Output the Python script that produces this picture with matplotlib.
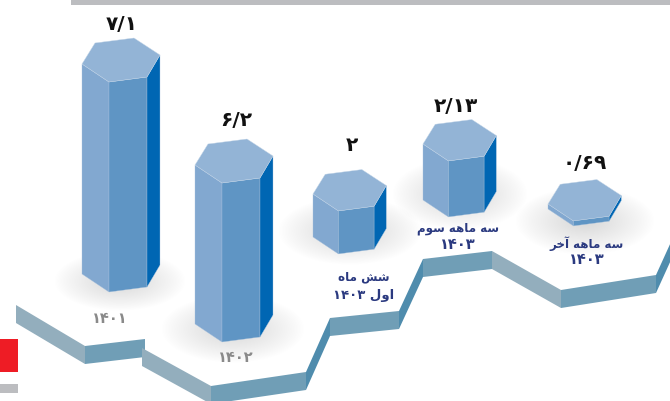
import matplotlib
matplotlib.use('Agg')
import matplotlib.pyplot as plt
from matplotlib.patches import Polygon, Rectangle
import numpy as np

# values shown over the bars, and how tall each prism is drawn (px)
value_labels = ['۷/۱', '۶/۲', '۲', '۲/۱۳', '۰/۶۹']
bar_heights = [210, 159, 43, 56, 5]
periods = ['۱۴۰۱', '۱۴۰۲', 'شش ماه\nاول ۱۴۰۳', 'سه ماهه سوم\n۱۴۰۳', 'سه ماهه آخر\n۱۴۰۳']

# settings
bar_left = [82, 195, 313, 423, 548]
bar_top = [65, 166, 195, 145, 205]
bar_scale = [1, 1, 0.94, 0.94, 0.94]
value_pos = [(122, 25), (236, 120), (352, 146), (456, 106), (585, 164)]
period_pos = [(110, 319), (236, 358), (364, 286), (458, 237), (587, 252)]
period_gap = [0, 0, 19, 16, 16]
shadow_pos = [(120, 282, 66, 30), (233, 330, 72, 34), (350, 232, 72, 34),
              (460, 195, 68, 36), (585, 222, 70, 34)]
period_colors = ['#8a8a8a', '#8a8a8a', '#2b3a80', '#2b3a80', '#2b3a80']
hex_shape = np.array([[0, 0], [13, -21], [52, -26], [78, -9], [65, 13], [27, 18]], dtype=float)

col_top = '#93b4d6'
col_left = '#82a8d0'
col_front = '#5f95c4'
col_right = '#0066b3'
col_rib_light = '#93aebd'
col_rib_front = '#709eb6'
col_rib_dark = '#4f8cad'
rib_depth = 18

# top edge of the stepped ribbon, piece by piece
ribbon = [
    ([(16, 306), (85, 347)], col_rib_light),
    ([(85, 347), (145, 340)], col_rib_front),
    ([(142, 349), (211, 387)], col_rib_light),
    ([(211, 387), (306, 373)], col_rib_front),
    ([(306, 373), (330, 319)], col_rib_dark),
    ([(330, 319), (399, 312)], col_rib_front),
    ([(399, 312), (423, 260)], col_rib_dark),
    ([(423, 260), (492, 252)], col_rib_front),
    ([(492, 252), (561, 291)], col_rib_light),
    ([(561, 291), (656, 276)], col_rib_front),
    ([(656, 276), (671, 243)], col_rib_dark),
]

# matplotlib does no arabic joining, so pick presentation forms by hand
forms = {
    'ش': (0xFEB5, 0xFEB6, 0xFEB7, 0xFEB8), 'ه': (0xFEE9, 0xFEEA, 0xFEEB, 0xFEEC),
    'م': (0xFEE1, 0xFEE2, 0xFEE3, 0xFEE4), 'ل': (0xFEDD, 0xFEDE, 0xFEDF, 0xFEE0),
    'س': (0xFEB1, 0xFEB2, 0xFEB3, 0xFEB4), 'خ': (0xFEA5, 0xFEA6, 0xFEA7, 0xFEA8),
    'ا': (0xFE8D, 0xFE8E), 'و': (0xFEED, 0xFEEE), 'ر': (0xFEAD, 0xFEAE), 'آ': (0xFE81, 0xFE82),
}

def shape_word(word):
    if word[0] not in forms:
        return word
    out = []
    for i, c in enumerate(word):
        prev_joins = i > 0 and len(forms[word[i - 1]]) == 4
        next_joins = i < len(word) - 1 and len(forms[c]) == 4
        idx = {(0, 0): 0, (1, 0): 1, (0, 1): 2, (1, 1): 3}[(int(prev_joins), int(next_joins))]
        out.append(chr(forms[c][idx]))
    return ''.join(reversed(out))

def shape(line):
    return ' '.join(shape_word(w) for w in reversed(line.split(' ')))

def line_size(line):
    # the digits run larger than the words in the original
    has_digit = any(c in '۰۱۲۳۴۵۶۷۸۹' for c in line)
    has_word = any(c in forms for c in line)
    if has_digit and has_word:
        return 9.5
    return 10.5 if has_digit else 8.6

fig = plt.figure(figsize=(6.7, 4.02), dpi=100)
ax = fig.add_axes([0, 0, 1, 1])
ax.set_xlim(0, 670)
ax.set_ylim(402, 0)
ax.axis('off')

# soft shadows
for cx, cy, rx, ry in shadow_pos:
    gx, gy = np.meshgrid(np.linspace(-1, 1, 120), np.linspace(-1, 1, 120))
    rgba = np.zeros((120, 120, 4))
    rgba[..., :3] = 0.72
    rgba[..., 3] = np.clip(1 - np.hypot(gx, gy), 0, 1) ** 0.9 * 0.55
    ax.imshow(rgba, extent=(cx - rx, cx + rx, cy + ry, cy - ry), zorder=1,
              interpolation='bilinear', aspect='auto')
ax.set_xlim(0, 670)
ax.set_ylim(402, 0)

for (p0, p1), col in ribbon:
    ax.add_patch(Polygon([p0, p1, (p1[0], p1[1] + rib_depth), (p0[0], p0[1] + rib_depth)],
                         closed=True, fc=col, ec='none', zorder=2))

for left, top, h, s in zip(bar_left, bar_top, bar_heights, bar_scale):
    pts = hex_shape * s + [left, top]
    faces = [((pts[0], pts[5]), col_left), ((pts[5], pts[4]), col_front), ((pts[4], pts[3]), col_right)]
    for (a, b), col in faces:
        ax.add_patch(Polygon([a, b, b + [0, h], a + [0, h]], closed=True, fc=col,
                             ec='#a9c3de', lw=0.25, joinstyle='miter', zorder=3))
    ax.add_patch(Polygon(pts, closed=True, fc=col_top, ec='#c4d6e8', lw=0.3, joinstyle='miter', zorder=4))

for txt, (x, y) in zip(value_labels, value_pos):
    ax.text(x, y, txt, ha='center', va='center', fontsize=14.5, fontweight='bold',
            color='#111111', family='DejaVu Sans', zorder=5)

for txt, (x, y), col, gap in zip(periods, period_pos, period_colors, period_gap):
    lines = txt.split('\n')
    for i, line in enumerate(lines):
        ly = y + (i - (len(lines) - 1) / 2) * gap
        ax.text(x, ly, shape(line), ha='center', va='center', fontsize=line_size(line),
                fontweight='bold', color=col, family='DejaVu Sans', zorder=5)

# page decoration
ax.add_patch(Rectangle((71, 0), 599, 6, fc='#bcbdc0', ec='none', zorder=6))
ax.add_patch(Rectangle((0, 340), 18, 33, fc='#ee1c25', ec='none', zorder=6))
ax.add_patch(Rectangle((0, 385), 18, 9, fc='#bcbdc0', ec='none', zorder=6))

plt.savefig('out.png', dpi=100)
